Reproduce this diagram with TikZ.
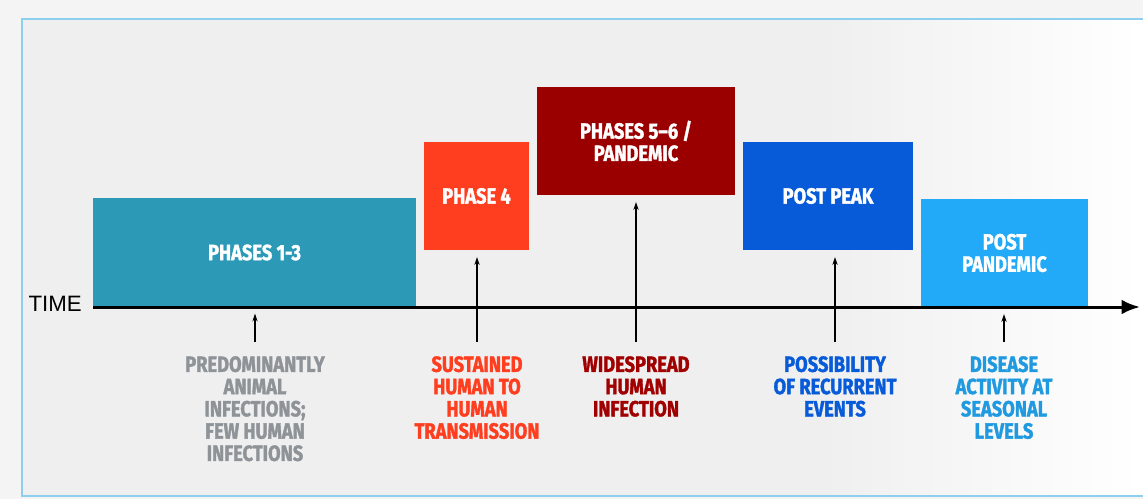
\documentclass[tikz,border=0pt]{standalone}
\usepackage{fontspec}
\usepackage{tikz}
\usetikzlibrary{arrows.meta}
\newfontfamily\condfont{Fira Sans}[FakeStretch=0.83, BoldFeatures={FakeBold=1.5}]
\newfontfamily\timefont{Liberation Sans}
\definecolor{bggray}{HTML}{F4F4F4}
\definecolor{panelgray}{HTML}{EFEFEF}
\definecolor{frameblue}{HTML}{8CCFEF}
\definecolor{tealph}{HTML}{2C9AB7}
\definecolor{orangeph}{HTML}{FF3D1F}
\definecolor{redph}{HTML}{9B0000}
\definecolor{blueph}{HTML}{075BD8}
\definecolor{skyph}{HTML}{22AAF8}
\definecolor{grayph}{HTML}{8E9398}
\begin{document}
\begin{tikzpicture}[x=0.3mm, y=-0.3mm,
	phase/.style={inner sep=0pt, text=white, align=center, minimum height=32.5mm,
		font=\condfont\bfseries\fontsize{18.8}{19}\selectfont},
	desc/.style={inner sep=0pt, anchor=north, align=center,
		font=\condfont\bfseries\fontsize{18.8}{19}\selectfont},
	pointer/.style={line width=0.9pt, -{Stealth[length=2.4mm,width=1.6mm]}, shorten <=4.2mm, shorten >=2mm}]
	\useasboundingbox (0,0) rectangle (1143,499);
	\clip (0,0) rectangle (1143,499);
	% background and frame
	\fill[bggray] (0,0) rectangle (1143,499);
	\fill[panelgray] (22,19) rectangle (1143,496);
	\shade[left color=panelgray, right color=white] (820,19) rectangle (1143,496);
	\draw[frameblue, line width=0.6mm] (22,19) rectangle (1160,496);
	% phases
	\node[phase, fill=tealph, minimum width=96.9mm] (p13) at (254.5,252.5) {PHASES 1-3};
	\node[phase, fill=orangeph, minimum width=31.5mm] (p4) at (476.5,196) {PHASE 4};
	\node[phase, fill=redph, minimum width=59.4mm] (p56) at (636,141) {PHASES 5\textendash6 /\\PANDEMIC};
	\node[phase, fill=blueph, minimum width=51mm] (peak) at (828,196) {POST PEAK};
	\node[phase, fill=skyph, minimum width=50.1mm] (post) at (1004.5,253) {POST\\PANDEMIC};
	% time axis
	\coordinate (t0) at (93,307);
	\coordinate (t1) at (1140,307);
	\draw[line width=0.9mm, -{Latex[length=5.5mm,width=4.4mm]}] (t0) -- (t1);
	\node[anchor=base east, inner sep=0pt, font=\timefont\fontsize{19}{19}\selectfont] (time) at (82,311) {TIME};
	% descriptions
	\node[desc, text=grayph] (d13) at (255,356) {PREDOMINANTLY\\ANIMAL\\INFECTIONS;\\FEW HUMAN\\INFECTIONS};
	\node[desc, text=orangeph] (d4) at (477,356) {SUSTAINED\\HUMAN TO\\HUMAN\\TRANSMISSION};
	\node[desc, text=redph!95!red] (d56) at (636,356) {WIDESPREAD\\HUMAN\\INFECTION};
	\node[desc, text=blueph] (dpeak) at (835,356) {POSSIBILITY\\OF RECURRENT\\EVENTS};
	\node[desc, text=skyph!90!black] (dpost) at (1004,356) {DISEASE\\ACTIVITY AT\\SEASONAL\\LEVELS};
	\draw[pointer] (d13.north) -- (d13.north |- p13.south);
	\draw[pointer] (d4.north) -- (d4.north |- p4.south);
	\draw[pointer] (d56.north) -- (d56.north |- p56.south);
	\draw[pointer] (dpeak.north) -- (dpeak.north |- peak.south);
	\draw[pointer] (dpost.north) -- (dpost.north |- post.south);
\end{tikzpicture}
\end{document}
